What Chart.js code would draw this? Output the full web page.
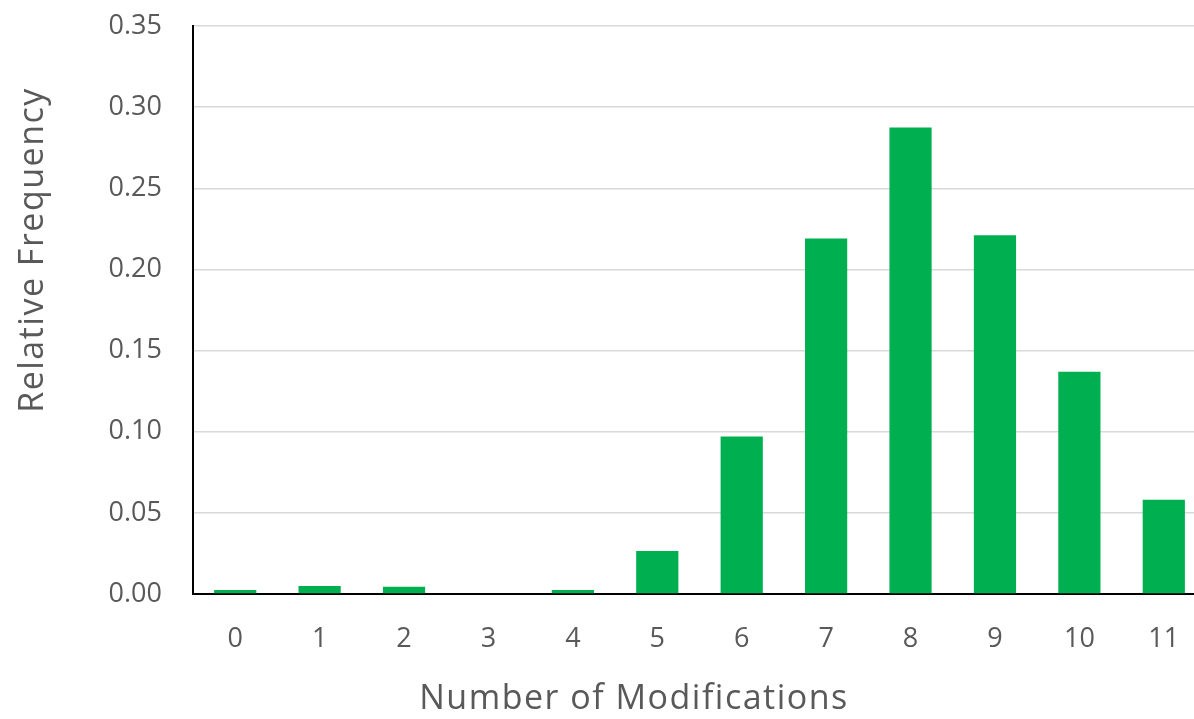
<!DOCTYPE html>
<html lang="en">
<head>
    <meta charset="UTF-8">
    <title>Relative Frequency of Modifications</title>
    <style>
        html, body {
            margin: 0;
            padding: 0;
            background: #ffffff;
            overflow: hidden;
        }
        .wrap {
            position: relative;
            width: 1206px;
            height: 719px;
        }
    </style>
</head>
<body>
    <div class="wrap">
        <canvas id="freqChart" width="1206" height="719"></canvas>
    </div>

    <script src="https://cdn.jsdelivr.net/npm/chart.js"></script>
    <script>
        // data
        const categories = ['0', '1', '2', '3', '4', '5', '6', '7', '8', '9', '10', '11'];
        const frequencies = [0.0025, 0.005, 0.0045, 0, 0.0025, 0.0265, 0.097, 0.219, 0.2875, 0.221, 0.137, 0.058];
        const yTicks = [0, 0.05, 0.10, 0.15, 0.20, 0.25, 0.30, 0.35];
        const xTitle = 'Number of Modifications';
        const yTitle = 'Relative Frequency';

        const textColor = '#595959';
        const fontFamily = "'Open Sans', sans-serif";

        // axis titles sit off-centre in the original, so draw them by hand
        const axisTitles = {
            id: 'axisTitles',
            afterDraw(chart) {
                const ctx = chart.ctx;
                ctx.save();
                ctx.fillStyle = textColor;
                ctx.font = '34px ' + fontFamily;
                ctx.letterSpacing = '1.5px';
                ctx.textAlign = 'center';
                ctx.textBaseline = 'middle';
                ctx.fillText(xTitle, 634, 699);
                ctx.translate(33, 250);
                ctx.rotate(-Math.PI / 2);
                ctx.fillText(yTitle, 0, 0);
                ctx.restore();
            }
        };

        new Chart(document.getElementById('freqChart'), {
            type: 'bar',
            data: {
                labels: categories,
                datasets: [{
                    label: yTitle,
                    data: frequencies,
                    backgroundColor: '#00b050',
                    borderWidth: 0,
                    barPercentage: 0.5,
                    categoryPercentage: 1.0
                }]
            },
            options: {
                responsive: false,
                animation: false,
                layout: {
                    padding: { top: 26, right: 0, left: 0, bottom: 0 }
                },
                plugins: {
                    legend: { display: false },
                    tooltip: { enabled: false }
                },
                scales: {
                    x: {
                        grid: { display: false, drawTicks: false },
                        border: { color: '#000000', width: 2 },
                        ticks: {
                            color: textColor,
                            font: { size: 27, family: fontFamily },
                            padding: 29
                        },
                        afterFit(scale) {
                            scale.height = 125;
                            scale.paddingLeft = 0;
                            scale.paddingRight = 0;
                        }
                    },
                    y: {
                        min: 0,
                        max: 0.35,
                        afterBuildTicks(scale) {
                            scale.ticks = yTicks.map(v => ({ value: v }));
                        },
                        grid: { color: '#d9d9d9', lineWidth: 1.5, drawTicks: false },
                        border: { color: '#000000', width: 2 },
                        ticks: {
                            color: textColor,
                            font: { size: 27, family: fontFamily },
                            padding: 31,
                            callback: v => v.toFixed(2)
                        },
                        afterFit(scale) {
                            scale.width = 193;
                            scale.paddingTop = 0;
                            scale.paddingBottom = 0;
                        }
                    }
                }
            },
            plugins: [axisTitles]
        });
    </script>
</body>
</html>
